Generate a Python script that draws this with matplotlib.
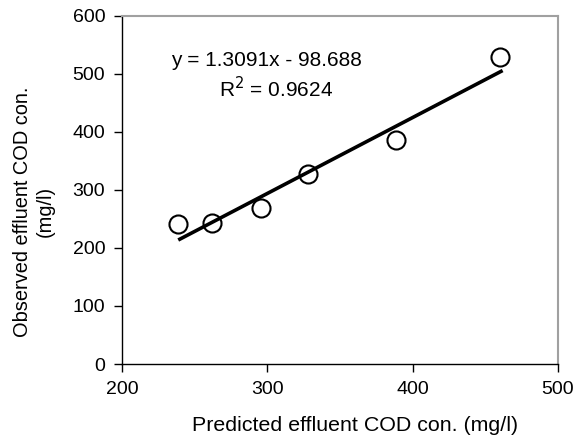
import numpy as np
import matplotlib
matplotlib.use("Agg")
import matplotlib.pyplot as plt

# predicted vs observed effluent COD (mg/l)
predicted = [238.7, 261.6, 295.3, 328.3, 388.7, 460.4]
observed = [241.2, 243.9, 268.7, 327.8, 385.9, 529.9]
slope, intercept = 1.3091, -98.688
r2 = 0.9624

plt.rcParams['font.family'] = ['Liberation Sans', 'DejaVu Sans']

fig = plt.figure(figsize=(5.74, 4.36), dpi=100)
ax = fig.add_axes([122/574, 1 - 364/436, 436/574, 348/436])

xs = np.array([min(predicted), max(predicted) + 1.5])
ax.plot(xs, slope*xs + intercept, color='black', lw=2.6, solid_capstyle='butt', zorder=2)
ax.plot(predicted, observed, 'o', ms=13, mfc='none', mec='black', mew=1.5, zorder=3)

ax.set_xlim(200, 500)
ax.set_ylim(0, 600)
ax.set_xticks([200, 300, 400, 500])
ax.set_yticks(range(0, 601, 100))
ax.tick_params(direction='out', length=6, width=1, labelsize=14, pad=6)

for s in ['top', 'right']:
    ax.spines[s].set_color('#a0a0a0')
    ax.spines[s].set_linewidth(1.5)
for s in ['left', 'bottom']:
    ax.spines[s].set_linewidth(1)

ax.text(299.4, 524, 'y = 1.3091x - 98.688', ha='center', va='center', fontsize=15)
ax.text(306, 474, 'R$^2$ = %.4f' % r2, ha='center', va='center', fontsize=15)

ax.set_xlabel('Predicted effluent COD con. (mg/l)', fontsize=15.4)
ax.set_ylabel('Observed effluent COD con.\n(mg/l)', fontsize=14.4)
ax.xaxis.set_label_coords(0.534, -0.15)
ax.yaxis.set_label_coords(-0.155, 0.438)

fig.savefig('out.png', dpi=100)
